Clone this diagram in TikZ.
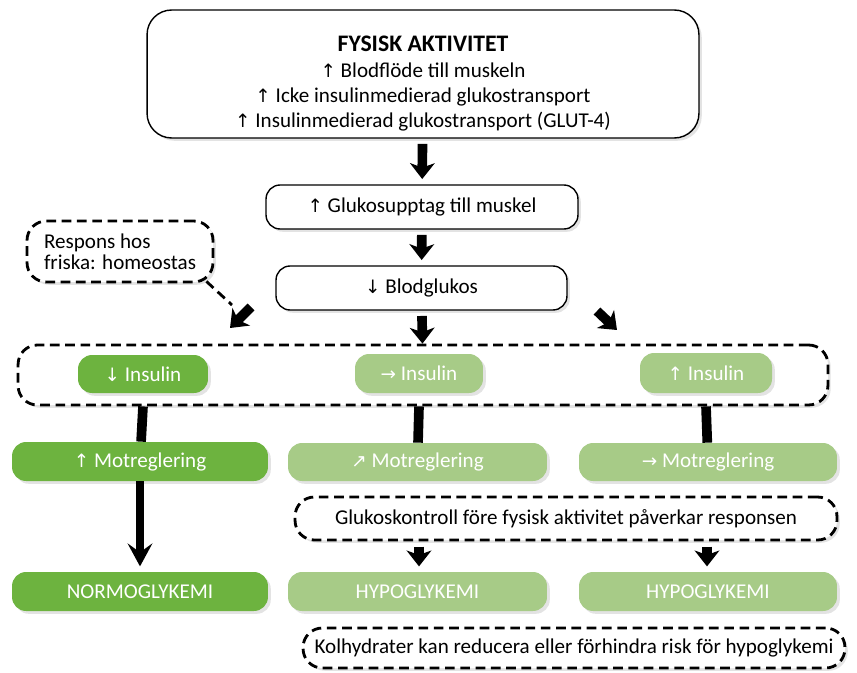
\documentclass[tikz,border=0pt]{standalone}
\usepackage{fontspec}
\setmainfont{Carlito}
\newfontfamily\pilfont{DejaVu Sans}
\usetikzlibrary{arrows.meta,positioning,shadows}

\definecolor{morkgron}{HTML}{6DB33F}
\definecolor{ljusgron}{HTML}{A7CB87}

% small arrow glyphs in the labels
\newcommand{\pil}[1]{{\pilfont\fontsize{10.5}{10.5}\selectfont #1}}

\begin{document}
\begin{tikzpicture}[
    x=0.02cm, y=-0.02cm,
    skugga/.style={drop shadow={shadow xshift=1.6pt, shadow yshift=-1.6pt, opacity=0.22}},
    box/.style={rectangle, draw, line width=0.8pt, rounded corners=8pt, fill=white, align=center, inner sep=0pt, font=\fontsize{12}{14.5}\selectfont, skugga},
    streck/.style={rectangle, draw, line width=1.6pt, dash pattern=on 5.5pt off 3.2pt, rounded corners=11pt, fill=white, inner sep=0pt, font=\fontsize{12}{12}\selectfont, skugga},
    gron/.style={rectangle, rounded corners=8pt, fill=morkgron, text=white, inner sep=0pt, font=\fontsize{12}{14}\selectfont, skugga},
    ljus/.style={gron, fill=ljusgron},
    tjock/.style={line width=5.5pt, -{Stealth[length=9pt, width=14pt, inset=2.5pt]}, shorten <=3pt, shorten >=3pt},
    lang/.style={line width=4.5pt, -{Stealth[length=13pt, width=14pt, inset=5pt]}, shorten >=3pt},
    balk/.style={line width=5.5pt}
]
\useasboundingbox (0,0) rectangle (857,672);

% top of the chain
\node[box, rounded corners=14pt, minimum width=11.04cm, minimum height=2.56cm] (fysisk) at (423,74)
  {\rule{0pt}{20pt}{\fontsize{13.5}{15}\selectfont\bfseries FYSISK AKTIVITET}\\
   \pil{↑} Blodflöde till muskeln\\
   \pil{↑} Icke insulinmedierad glukostransport\\
   \pil{↑} Insulinmedierad glukostransport (GLUT-4)};
\node[box, minimum width=6.24cm, minimum height=0.88cm] (upptag) at (422,207) {\pil{↑} Glukosupptag till muskel};
\node[box, minimum width=5.82cm, minimum height=0.88cm] (blodglukos) at (421.5,288) {\pil{↓} Blodglukos};
\node[streck, align=left, minimum width=3.72cm, minimum height=1.22cm] (respons) at (120,251.5) {Respons hos\\friska: homeostas};

% insulin row
\node[streck, minimum width=16.2cm, minimum height=1.2cm] (insbox) at (423,375) {};
\node[gron, minimum width=2.6cm, minimum height=0.76cm] (insA) at (143,374) {\pil{↓} Insulin};
\node[ljus, minimum width=2.56cm, minimum height=0.78cm] (insB) at (419,373.5) {\pil{→} Insulin};
\node[ljus, minimum width=2.64cm, minimum height=0.8cm] (insC) at (706,373) {\pil{↑} Insulin};

% counter regulation
\node[gron, minimum width=5.12cm, minimum height=0.78cm] (motA) at (140,461.5) {\pil{↑} Motreglering};
\node[ljus, minimum width=5.18cm, minimum height=0.76cm] (motB) at (417.5,462) {\pil{↗} Motreglering};
\node[ljus, minimum width=5.16cm, minimum height=0.76cm] (motC) at (708,462) {\pil{→} Motreglering};

\node[streck, minimum width=10.84cm, minimum height=0.86cm] (gluk) at (566,518.5) {Glukoskontroll före fysisk aktivitet påverkar responsen};

% outcome
\node[gron, minimum width=5.12cm, minimum height=0.78cm] (normo) at (140,591.5) {NORMOGLYKEMI};
\node[ljus, minimum width=5.18cm, minimum height=0.78cm] (hypoB) at (417.5,591.5) {HYPOGLYKEMI};
\node[ljus, minimum width=5.16cm, minimum height=0.78cm] (hypoC) at (708,591.5) {HYPOGLYKEMI};
\node[streck, minimum width=10.84cm, minimum height=0.8cm] (kolhyd) at (574,648) {Kolhydrater kan reducera eller förhindra risk för hypoglykemi};

\coordinate (vsvans) at (251,307);
\coordinate (vspets) at (230,328);
\coordinate (hsvans) at (597,311);
\coordinate (hspets) at (617,330);

\draw[tjock] (fysisk) -- (upptag);
\draw[tjock] (upptag) -- (blodglukos);
\draw[tjock, shorten >=0pt] (blodglukos) -- (insbox);
\draw[line width=1.6pt, dash pattern=on 5.5pt off 3.2pt] (respons.south east) ++(-8,-2) -- (232,305);
\draw[tjock, shorten <=0pt, shorten >=0pt] (vsvans) -- (vspets);
\draw[tjock, shorten <=0pt, shorten >=0pt] (hsvans) -- (hspets);

\draw[balk] (insA |- insbox.south) -- (motA);
\draw[balk] (insB |- insbox.south) -- (motB);
\draw[balk] (insC |- insbox.south) -- (motC);

\draw[lang] (motA) -- (normo);
\draw[tjock] (gluk.south -| 419,0) -- (hypoB.north -| 419,0);
\draw[tjock] (gluk.south -| 707,0) -- (hypoC.north -| 707,0);
\end{tikzpicture}
\end{document}
